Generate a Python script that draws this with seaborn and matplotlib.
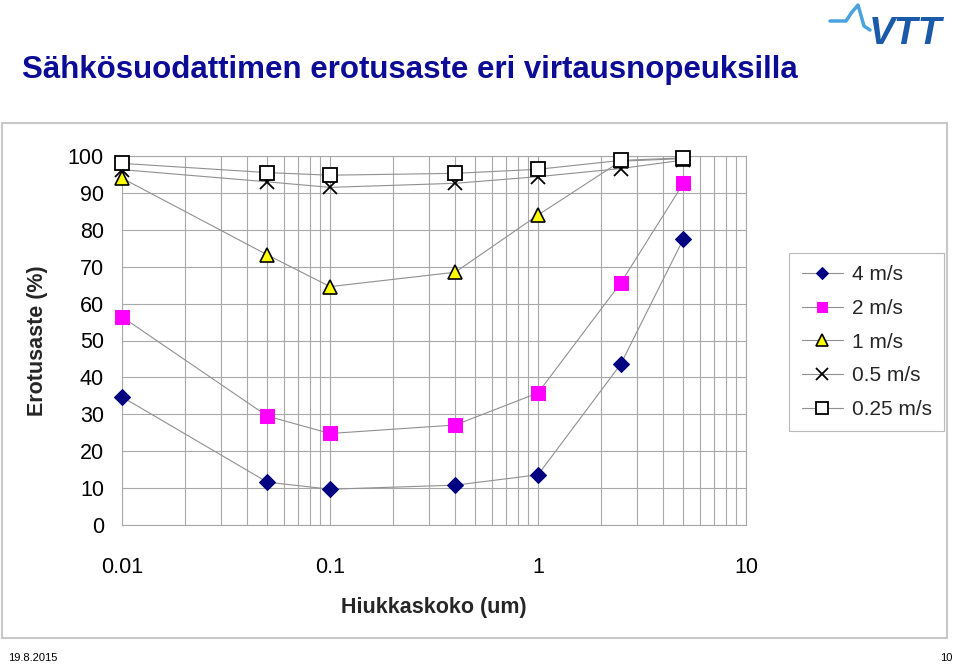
import matplotlib
matplotlib.use("Agg")
import matplotlib.pyplot as plt
import seaborn as sns
import pandas as pd
from matplotlib.patches import Rectangle
from matplotlib.lines import Line2D
from matplotlib.ticker import LogLocator, NullFormatter, FixedLocator

sns.set_theme(style="white")
plt.rcParams['font.family'] = ['Liberation Sans', 'DejaVu Sans']

# ---- data ----
particle_size = [0.01, 0.05, 0.1, 0.4, 1, 2.5, 5]
eff_4 = [34.7, 11.6, 9.7, 10.8, 13.6, 43.6, 77.5]
eff_2 = [56.4, 29.5, 24.8, 27.1, 35.8, 65.6, 92.6]
eff_1 = [94.0, 73.2, 64.6, 68.5, 84.0, 98.6, 99.3]
eff_05 = [96.3, 93.0, 91.5, 92.6, 94.4, 96.6, 98.9]
eff_025 = [98.0, 95.5, 94.8, 95.3, 96.4, 98.8, 99.5]
series_labels = ["4 m/s", "2 m/s", "1 m/s", "0.5 m/s", "0.25 m/s"]
y_ticks = [0, 10, 20, 30, 40, 50, 60, 70, 80, 90, 100]
x_ticks = [0.01, 0.1, 1, 10]
x_ticklabels = ["0.01", "0.1", "1", "10"]

title = "Sähkösuodattimen erotusaste eri virtausnopeuksilla"
xlabel = "Hiukkaskoko (um)"
ylabel = "Erotusaste (%)"

fig = plt.figure(figsize=(9.6, 6.65), dpi=100)
fig.patch.set_facecolor("white")

# chart-area frame
fig.add_artist(Rectangle((2/960, 1-638/665), 945/960, 515/665, transform=fig.transFigure,
                         fill=False, edgecolor="#c8c8c8", lw=1.5))

ax = fig.add_axes([122/960, 1-525/665, 624/960, 369/665])

styles = [
    dict(marker="D", markersize=8, markerfacecolor="#000080", markeredgecolor="#000080"),
    dict(marker="s", markersize=9.5, markerfacecolor="#FF00FF", markeredgecolor="#FF00FF"),
    dict(marker="^", markersize=10, markerfacecolor="#FFFF00", markeredgecolor="black", markeredgewidth=1.2),
    dict(marker="x", markersize=10, markerfacecolor="black", markeredgecolor="black", markeredgewidth=1.3),
    dict(marker="s", markersize=10, markerfacecolor="white", markeredgecolor="black", markeredgewidth=1.3),
]
series = [eff_4, eff_2, eff_1, eff_05, eff_025]
for vals, lab, st in zip(series, series_labels, styles):
    df = pd.DataFrame({"x": particle_size, "y": vals})
    sns.lineplot(data=df, x="x", y="y", ax=ax, color="#909090", lw=0.8,
                 label=lab, clip_on=False, zorder=3, **st)

ax.set_xscale("log")
ax.set_xlim(0.01, 10)
ax.set_ylim(0, 100)
ax.xaxis.set_major_locator(FixedLocator(x_ticks))
ax.set_xticklabels(x_ticklabels)
ax.xaxis.set_minor_locator(LogLocator(base=10, subs=range(2, 10)))
ax.xaxis.set_minor_formatter(NullFormatter())
ax.set_yticks(y_ticks)
ax.grid(True, which="major", axis="both", color="#a8a8a8", lw=0.8)
ax.grid(True, which="minor", axis="x", color="#a8a8a8", lw=0.8)
for s in ax.spines.values():
    s.set_color("#a8a8a8")
    s.set_linewidth(0.8)
ax.tick_params(axis="both", which="major", length=5, color="#a8a8a8", labelsize=15.5,
               labelcolor="black")
ax.tick_params(axis="x", which="major", pad=18)
ax.tick_params(axis="y", which="major", pad=8)
ax.tick_params(axis="x", which="minor", length=0)
ax.set_xlabel(xlabel, fontsize=15.5, fontweight="bold", labelpad=14)
ax.set_ylabel(ylabel, fontsize=15.5, fontweight="bold")
ax.yaxis.set_label_coords(-0.118, 0.5)

leg = ax.legend(loc="upper left", bbox_to_anchor=(789/960, 1-253/665),
                bbox_transform=fig.transFigure, frameon=True, fancybox=False,
                fontsize=15, handlelength=2.0, borderpad=0.6, labelspacing=0.7,
                handletextpad=0.4, borderaxespad=0, markerscale=0.8)
leg.get_frame().set_edgecolor("#a8a8a8")
leg.get_frame().set_linewidth(0.8)

fig.text(22/960, 1-70/665, title, fontsize=22.5, color="#0c0c96",
         family=["Liberation Sans Narrow", "Liberation Sans", "DejaVu Sans"],
         fontweight="bold", va="center", ha="left")

# logo
fig.add_artist(Line2D([830/960, 846/960, 852/960, 858/960, 864/960, 870/960],
                      [1-21/665, 1-21/665, 1-12/665, 1-5/665, 1-26/665, 1-30/665],
                      transform=fig.transFigure, color="#4aa3df", lw=2.5))
fig.text(905/960, 1-34/665, "VTT", fontsize=28, fontweight="bold", style="italic",
         color="#1a5aa8", ha="center", va="center")

fig.text(8/960, 1-658/665, "19.8.2015", fontsize=8, ha="left", va="center", color="black")
fig.text(952/960, 1-658/665, "10", fontsize=8, ha="right", va="center", color="black")

fig.savefig("out.png", dpi=100)
